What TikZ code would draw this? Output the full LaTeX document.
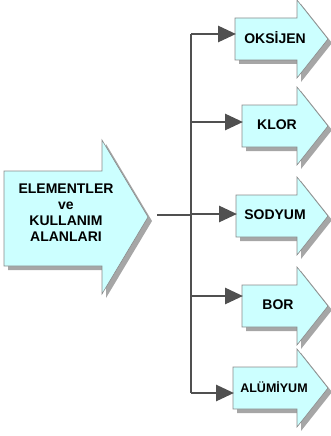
\documentclass[tikz,border=0pt]{standalone}
\usepackage{fontspec}
\setmainfont{Liberation Sans}
\usetikzlibrary{arrows.meta}
\definecolor{fillc}{HTML}{CCFFFF}
\definecolor{edgec}{HTML}{8A8A8A}
\definecolor{shadc}{HTML}{A6A6A6}
\definecolor{connc}{HTML}{505050}
\tikzset{
  arrbody/.style={fill=fillc, draw=edgec, line width=0.6pt, line join=miter},
  arrshadow/.style={fill=shadc},
  lab/.style={font=\bfseries\fontsize{14}{16}\selectfont, inner sep=0pt, align=center},
  conn/.style={draw=connc, line width=2.8pt},
  connarrow/.style={conn, -{Triangle[length=18pt,width=16pt]}, shorten >=-1pt}
}
% #1 name, #2 left x, #3 center y, #4 text x, #5 connector y, #6 text, #7 font size
\newcommand{\smallarr}[7]{%
  \begin{scope}[shift={(4,4)}]
    \path[arrshadow] ({#2},{#3-21}) -- (297,{#3-21}) -- (297,{#3-39}) -- (328,{#3})
      -- (297,{#3+39}) -- (297,{#3+21}) -- ({#2},{#3+21}) -- cycle;
  \end{scope}
  \path[arrbody] ({#2},{#3-21}) -- (297,{#3-21}) -- (297,{#3-39}) -- (328,{#3})
      -- (297,{#3+39}) -- (297,{#3+21}) -- ({#2},{#3+21}) -- cycle;
  \node[lab, font=\bfseries\fontsize{#7}{16}\selectfont] (#1) at ({#4},{#3-1}) {#6};
  \coordinate (#1-in) at ({#2},{#5});
}
\begin{document}
\begin{tikzpicture}[x=1pt, y=-1pt]
\useasboundingbox (0,0) rectangle (331,436);
% main arrow
\begin{scope}[shift={(4,4)}]
  \path[arrshadow] (4,171) -- (102,171) -- (102,140) -- (148,217) -- (102,294) -- (102,266) -- (4,266) -- cycle;
\end{scope}
\path[arrbody] (4,171) -- (102,171) -- (102,140) -- (148,217) -- (102,294) -- (102,266) -- (4,266) -- cycle;
\node[lab, text depth=0pt] (main) at (66,213) {\baselineskip=19pt ELEMENTLER\\ve\\KULLANIM\\ALANLARI};
\coordinate (main-out) at (157,215);
\coordinate (spine) at (191,0);

\smallarr{oks}{235}{39}{275}{34}{OKS\.{I}JEN}{14}
\smallarr{klor}{242}{126}{277}{122}{KLOR}{14}
\smallarr{sod}{236}{216}{275}{214}{SODYUM}{14}
\smallarr{bor}{242}{306}{278}{296}{BOR}{14}
\smallarr{alu}{233}{388}{274}{393}{ALÜM\.{I}YUM}{12.5}

% connectors
\draw[conn] (spine |- oks-in) -- (spine |- alu-in);
\draw[conn] (main-out) -- (spine |- main-out);
\draw[connarrow] (spine |- oks-in) -- (oks-in);
\draw[connarrow] (spine |- klor-in) -- (klor-in);
\draw[connarrow] (spine |- sod-in) -- (sod-in);
\draw[connarrow] (spine |- bor-in) -- (bor-in);
\draw[connarrow] (spine |- alu-in) -- (alu-in);
\end{tikzpicture}
\end{document}
